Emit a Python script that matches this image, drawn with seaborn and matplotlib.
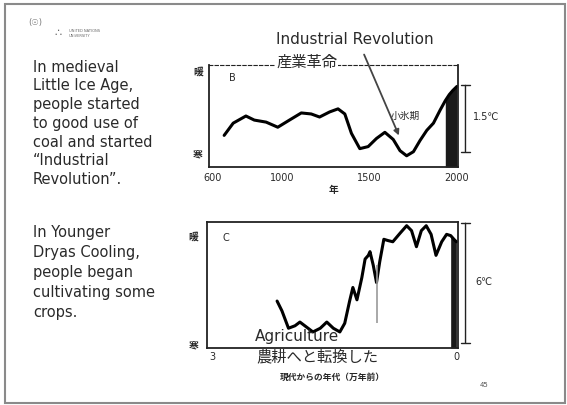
import numpy as np
import matplotlib
matplotlib.use("Agg")
import matplotlib.pyplot as plt
import seaborn as sns
from matplotlib.patches import Rectangle, FancyArrowPatch

# DADOS

# grafico B: ultimo milenio (anos, temperatura relativa 0=frio 1=quente)
anos_b = [667, 719, 792, 840, 908, 975, 1042, 1110, 1167, 1215, 1273, 1321,
          1360, 1398, 1446, 1494, 1542, 1590, 1638, 1677, 1715, 1754, 1792,
          1831, 1869, 1908, 1937, 1960, 1980, 2004]
temp_b = [0.31, 0.43, 0.50, 0.46, 0.44, 0.39, 0.46, 0.53, 0.52, 0.49, 0.54,
          0.57, 0.52, 0.33, 0.18, 0.20, 0.28, 0.34, 0.27, 0.16, 0.11, 0.15,
          0.26, 0.36, 0.43, 0.56, 0.65, 0.71, 0.75, 0.79]
ticks_b = [600, 1000, 1500, 2000]

# grafico C: ultimos 30 mil anos (dezenas de milhares de anos atras)
idade_c = [2.20, 2.14, 2.06, 1.98, 1.92, 1.84, 1.76, 1.67, 1.59, 1.51, 1.43,
           1.37, 1.31, 1.27, 1.22, 1.16, 1.12, 1.08, 1.06, 1.02, 0.98, 0.94,
           0.89, 0.84, 0.78, 0.69, 0.61, 0.55, 0.49, 0.43, 0.37, 0.31, 0.25,
           0.18, 0.12, 0.07, 0.03, 0.00]
temp_c = [0.38, 0.30, 0.16, 0.18, 0.21, 0.17, 0.13, 0.16, 0.21, 0.16, 0.13,
          0.20, 0.38, 0.49, 0.39, 0.57, 0.72, 0.75, 0.78, 0.67, 0.53, 0.70,
          0.88, 0.87, 0.86, 0.93, 0.99, 0.95, 0.82, 0.95, 0.99, 0.92, 0.75,
          0.86, 0.92, 0.91, 0.88, 0.86]
ticks_c = [3, 0]
dryas = [0.98, 0.20, 0.67]  # linha cinza (idade, base, topo)

texto1 = ["In medieval", "Little Ice Age,", "people started", "to good use of",
          "coal and started", "\u201cIndustrial", "Revolution\u201d."]
texto2 = ["In Younger", "Dryas Cooling,", "people began",
          "cultivating some", "crops."]

sns.set_theme(style="white")
plt.rcParams['font.family'] = ['DejaVu Sans', 'Noto Sans CJK JP']
cinza = "#2a2a2a"
jp = ['Noto Sans CJK JP', 'DejaVu Sans']

W, H = 567, 405
fig = plt.figure(figsize=(W / 100, H / 100), dpi=100)

def px(x, y):
    return x / W, 1 - y / H

# moldura do slide
fig.patches.append(Rectangle((5 / W, 1 - 403 / H), 560 / W, 399 / H,
                             transform=fig.transFigure, fill=False,
                             edgecolor="#8a8a8a", linewidth=1.5))

# logo
fig.text(*px(35, 22), "(\u2609)", fontsize=6, color="#777777", ha="center", va="center")
fig.text(*px(58, 33), "\u2234", fontsize=8, color="#666666", ha="center", va="center")
fig.text(*px(69, 31), "UNITED NATIONS", fontsize=2.6, color="#666666", va="center")
fig.text(*px(69, 36), "UNIVERSITY", fontsize=2.6, color="#666666", va="center")

# textos da esquerda
for i, linha in enumerate(texto1):
    fig.text(*px(33, 67 + i * 18.8), linha, fontsize=10.5, color=cinza, va="center")
for i, linha in enumerate(texto2):
    fig.text(*px(33, 233 + i * 20), linha, fontsize=10.5, color=cinza, va="center")

# GRAFICO B
ax1 = fig.add_axes([209 / W, 1 - 167 / H, 249 / W, 102 / H])
sns.lineplot(x=anos_b, y=temp_b, ax=ax1, color="black", linewidth=2.2)
a = np.array(anos_b)
t = np.array(temp_b)
m = a >= 1937
ax1.fill_between(a[m], 0, t[m], color="#1a1a1a", linewidth=0)
ax1.set_xlim(580, 2010)
ax1.set_ylim(0, 1)
ax1.set_xticks(ticks_b)
ax1.set_xticklabels([str(v) for v in ticks_b], fontsize=7, color=cinza)
ax1.set_yticks([])
ax1.tick_params(axis='x', length=0, pad=4)
for s in ax1.spines.values():
    s.set_color("#222222")
    s.set_linewidth(1.3)
ax1.spines['top'].set_linestyle((0, (3, 2)))
ax1.spines['top'].set_linewidth(0.8)
ax1.text(0.08, 0.84, "B", transform=ax1.transAxes, fontsize=7, color=cinza)
ax1.text(-0.045, 0.93, "暖", transform=ax1.transAxes, fontsize=7,
         ha="center", va="center", family=jp, weight="bold")
ax1.text(-0.045, 0.12, "寒", transform=ax1.transAxes, fontsize=7,
         ha="center", va="center", family=jp, weight="bold")
ax1.text(1705, 0.50, "小氷期", fontsize=7, ha="center", va="center",
         color=cinza, family=jp)
ax1.set_xlabel("年", fontsize=7, labelpad=2, family=jp, weight="bold")
ax1.annotate("", xy=(1.03, 0.80), xytext=(1.03, 0.15), xycoords="axes fraction",
             arrowprops=dict(arrowstyle="|-|", lw=1, color="#222222",
                             mutation_scale=3, shrinkA=0, shrinkB=0))
ax1.text(1.06, 0.49, "1.5℃", transform=ax1.transAxes, fontsize=7, va="center")

# anotacao Revolucao Industrial
fig.text(*px(276, 40), "Industrial Revolution", fontsize=11, color=cinza, va="center")
fig.text(*px(276, 62), "産業革命", fontsize=11, color=cinza, va="center",
         family=jp, bbox=dict(facecolor="white", edgecolor="none", pad=0.5))
fig.patches.append(FancyArrowPatch(
    px(363, 52), px(400, 138), transform=fig.transFigure,
    arrowstyle="-|>", mutation_scale=8, color="#444444", lw=1.3))

# GRAFICO C
ax2 = fig.add_axes([207 / W, 1 - 348 / H, 251 / W, 126 / H])
sns.lineplot(x=idade_c, y=temp_c, ax=ax2, color="black", linewidth=2.2)
i2 = np.array(idade_c)
t2 = np.array(temp_c)
m2 = i2 <= 0.07
ax2.fill_between(i2[m2], 0, t2[m2], color="#1a1a1a", linewidth=0)
ax2.vlines(dryas[0], dryas[1], dryas[2], color="#999999", linewidth=1.2)
ax2.set_xlim(3.06, -0.02)
ax2.set_ylim(0, 1.02)
ax2.set_xticks(ticks_c)
ax2.set_xticklabels([str(v) for v in ticks_c], fontsize=7, color=cinza)
ax2.set_yticks([])
ax2.tick_params(axis='x', length=0, pad=3)
for s in ax2.spines.values():
    s.set_color("#222222")
    s.set_linewidth(1.3)
ax2.text(0.06, 0.85, "C", transform=ax2.transAxes, fontsize=7, color=cinza)
ax2.text(-0.055, 0.88, "暖", transform=ax2.transAxes, fontsize=7,
         ha="center", va="center", family=jp, weight="bold")
ax2.text(-0.055, 0.02, "寒", transform=ax2.transAxes, fontsize=7,
         ha="center", va="center", family=jp, weight="bold")
ax2.set_xlabel("現代からの年代（万年前）", fontsize=6.3, labelpad=8,
               family=jp, weight="bold")
ax2.annotate("", xy=(1.03, 0.99), xytext=(1.03, 0.04), xycoords="axes fraction",
             arrowprops=dict(arrowstyle="|-|", lw=1, color="#222222",
                             mutation_scale=3, shrinkA=0, shrinkB=0))
ax2.text(1.07, 0.52, "6℃", transform=ax2.transAxes, fontsize=7, va="center")

fig.text(*px(255, 337), "Agriculture", fontsize=11, color=cinza, va="center")
fig.text(*px(256, 357), "農耕へと転換した", fontsize=11, color=cinza,
         va="center", family=jp)

fig.text(*px(484, 385), "45", fontsize=5, color="#555555", ha="center", va="center")

fig.savefig("out.png", dpi=100, facecolor="white")
